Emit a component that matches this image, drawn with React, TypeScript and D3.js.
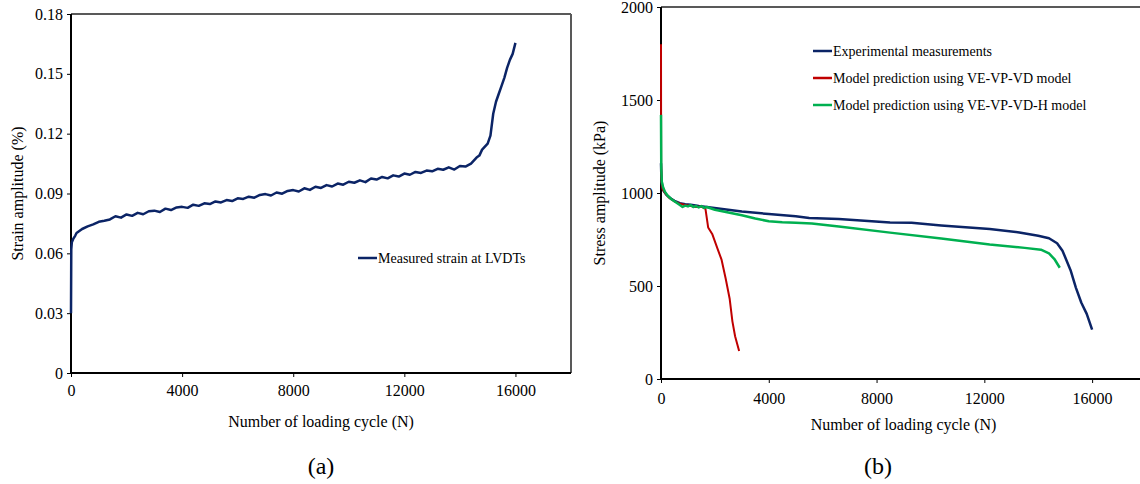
import React, { useRef, useEffect } from 'react';
import * as d3 from 'd3';

// (a) measured strain amplitude vs loading cycles
const strainCycles = [
  0, 10, 30, 80, 150, 200, 400, 600, 800, 1000, 1200, 1400, 1600, 1800, 2000,
  2200, 2400, 2600, 2800, 3000, 3200, 3400, 3600, 3800, 4000, 4200, 4400, 4600,
  4800, 5000, 5200, 5400, 5600, 5800, 6000, 6200, 6400, 6600, 6800, 7000, 7200,
  7400, 7600, 7800, 8000, 8200, 8400, 8600, 8800, 9000, 9200, 9400, 9600, 9800,
  10000, 10200, 10400, 10600, 10800, 11000, 11200, 11400, 11600, 11800, 12000,
  12200, 12400, 12600, 12800, 13000, 13200, 13400, 13600, 13800, 14000, 14200,
  14400, 14500, 14600, 14700, 14800, 14900, 15000, 15100, 15200, 15300, 15400,
  15500, 15600, 15700, 15800, 15900, 16000,
];
const strainValues = [
  0.03, 0.062, 0.0655, 0.0672, 0.0688, 0.0702, 0.0722, 0.0735, 0.0745, 0.0758,
  0.0763, 0.077, 0.0786, 0.0779, 0.0795, 0.0788, 0.0803, 0.0796, 0.0811, 0.0814,
  0.0807, 0.0824, 0.0817, 0.083, 0.0833, 0.0828, 0.0844, 0.0838, 0.0851, 0.0847,
  0.086, 0.0855, 0.0867, 0.0862, 0.0876, 0.0873, 0.0884, 0.0879, 0.0893, 0.0897,
  0.089, 0.0905, 0.0899, 0.0913, 0.0917, 0.091, 0.0926, 0.0918, 0.0934, 0.0928,
  0.0942, 0.0935, 0.095, 0.0944, 0.0959, 0.0954, 0.0966, 0.0957, 0.0975, 0.097,
  0.0983, 0.0976, 0.0991, 0.0985, 0.1, 0.0994, 0.1008, 0.1003, 0.1015, 0.1011,
  0.1024, 0.1019, 0.1031, 0.102, 0.1038, 0.1035, 0.105, 0.1065, 0.108, 0.109,
  0.112, 0.1135, 0.115, 0.119, 0.13, 0.136, 0.14, 0.144, 0.148, 0.153, 0.157,
  0.16, 0.1655,
];

// (b) stress amplitude vs loading cycles
const expCycles = [
  0, 15, 40, 100, 200, 350, 500, 700, 900, 1100, 1400, 1700, 2200, 3000, 4000,
  5000, 5500, 6600, 8500, 9300, 10400, 12200, 13300, 14000, 14400, 14700, 14900,
  15200, 15400, 15600, 15800, 16000,
];
const expStress = [
  1160, 1080, 1040, 1010, 990, 972, 958, 945, 940, 937, 930, 925, 915, 900, 887,
  875, 866, 860, 842, 840, 825, 806, 788, 770, 757, 730, 690, 585, 490, 410, 350,
  265,
];

const vdCycles = [
  0, 5, 20, 60, 150, 300, 500, 700, 900, 1100, 1300, 1500, 1650, 1750, 1900,
  2100, 2250, 2400, 2550, 2650, 2750, 2900,
];
const vdStress = [
  1800, 1150, 1060, 1020, 1000, 975, 955, 942, 935, 930, 925, 927, 915, 815, 780,
  700, 640, 540, 430, 310, 230, 150,
];

const vdhCycles = [
  0, 10, 30, 80, 150, 250, 400, 550, 700, 800, 900, 1000, 1100, 1200, 1300, 1400,
  1500, 1600, 1700, 2000, 2500, 3000, 3500, 4000, 4500, 5000, 5600, 6600, 8500,
  10400, 12200, 13500, 14100, 14400, 14600, 14800,
];
const vdhStress = [
  1420, 1130, 1060, 1030, 1005, 985, 965, 950, 935, 925, 932, 928, 935, 925, 930,
  922, 930, 920, 925, 910, 895, 880, 863, 848, 843, 840, 836, 820, 787, 755, 723,
  705, 695, 675, 645, 598,
];

const cycleTicks = [0, 4000, 8000, 12000, 16000];
const strainTicks = [0, 0.03, 0.06, 0.09, 0.12, 0.15, 0.18];
const stressTicks = [0, 500, 1000, 1500, 2000];

const NAVY = '#0b2466';
const RED = '#c00000';
const GREEN = '#00b050';
const FONT = '"Liberation Serif", "Times New Roman", serif';

type Series = { xs: number[]; ys: number[]; color: string; width: number; label: string };

type PanelProps = {
  left: number; right: number; top: number; bottom: number;
  xMax: number; yMax: number; yTicks: number[];
  yFormat: (d: number) => string;
  yTitle: string; yTitleX: number;
  xLabelPad: number; xTitleY: number;
  caption: string; captionX: number;
  series: Series[];
  legendX: number; legendY: number[];
};

function Panel(p: PanelProps) {
  const xRef = useRef<SVGGElement>(null);
  const yRef = useRef<SVGGElement>(null);
  const x = d3.scaleLinear().domain([0, p.xMax]).range([p.left, p.right]);
  const y = d3.scaleLinear().domain([0, p.yMax]).range([p.bottom, p.top]);

  useEffect(() => {
    const gx = d3.select(xRef.current!);
    gx.call(
      d3.axisBottom(x).tickValues(cycleTicks).tickSize(4).tickPadding(p.xLabelPad)
        .tickFormat((d) => String(d))
    );
    gx.select('.domain').remove();
    gx.selectAll('text').attr('font-family', FONT).attr('font-size', 16).attr('fill', '#000');
    gx.selectAll('line').attr('stroke', '#000');

    const gy = d3.select(yRef.current!);
    gy.call(
      d3.axisLeft(y).tickValues(p.yTicks).tickSize(4).tickPadding(4)
        .tickFormat((d) => p.yFormat(d as number))
    );
    gy.select('.domain').remove();
    gy.selectAll('text').attr('font-family', FONT).attr('font-size', 16).attr('fill', '#000');
    gy.selectAll('line').attr('stroke', '#000');
  }, []);

  const lineGen = d3.line<[number, number]>().x((d) => x(d[0])).y((d) => y(d[1]));
  const midY = (p.top + p.bottom) / 2;

  return (
    <g>
      {/* frame: grey top/right, black axes */}
      <line x1={p.left} x2={p.right} y1={p.top} y2={p.top} stroke="#595959" strokeWidth={2} />
      <line x1={p.right} x2={p.right} y1={p.top} y2={p.bottom} stroke="#595959" strokeWidth={2} />
      <line x1={p.left} x2={p.right} y1={p.bottom} y2={p.bottom} stroke="#000" strokeWidth={2} />
      <line x1={p.left} x2={p.left} y1={p.top} y2={p.bottom} stroke="#000" strokeWidth={2} />
      <g ref={xRef} transform={`translate(0,${p.bottom})`} />
      <g ref={yRef} transform={`translate(${p.left},0)`} />
      {p.series.map((s) => (
        <path key={s.label}
          d={lineGen(s.xs.map((v, i) => [v, s.ys[i]] as [number, number])) || ''}
          fill="none" stroke={s.color} strokeWidth={s.width} strokeLinejoin="round" />
      ))}
      {p.series.map((s, i) => (
        <g key={'lg' + s.label}>
          <line x1={p.legendX} x2={p.legendX + 19} y1={p.legendY[i]} y2={p.legendY[i]}
            stroke={s.color} strokeWidth={2.5} />
          <text x={p.legendX + 20} y={p.legendY[i]} dy="0.35em" fontFamily={FONT} fontSize={14}>
            {s.label}
          </text>
        </g>
      ))}
      <text transform={`translate(${p.yTitleX},${midY}) rotate(-90)`} textAnchor="middle"
        dy="0.35em" fontFamily={FONT} fontSize={16}>{p.yTitle}</text>
      <text x={(p.left + p.right) / 2} y={p.xTitleY} textAnchor="middle" dy="0.35em"
        fontFamily={FONT} fontSize={16}>Number of loading cycle (N)</text>
      <text x={p.captionX} y={466} textAnchor="middle" dy="0.35em"
        fontFamily={FONT} fontSize={24}>{p.caption}</text>
    </g>
  );
}

export default function App() {
  return (
    <svg width={1140} height={484} style={{ position: 'absolute', left: 0, top: 0, background: '#fff' }}>
      <Panel left={71} right={571} top={14} bottom={373} xMax={18000} yMax={0.18}
        yTicks={strainTicks} yFormat={(d) => (d === 0 ? '0' : d.toFixed(2))}
        yTitle="Strain amplitude (%)" yTitleX={17} xLabelPad={8} xTitleY={421}
        caption="(a)" captionX={321}
        series={[{ xs: strainCycles, ys: strainValues, color: NAVY, width: 2.5, label: 'Measured strain at LVDTs' }]}
        legendX={358} legendY={[258]}
      />
      <Panel left={661} right={1146} top={7} bottom={379} xMax={18000} yMax={2000}
        yTicks={stressTicks} yFormat={(d) => String(d)}
        yTitle="Stress amplitude (kPa)" yTitleX={599} xLabelPad={10} xTitleY={424}
        caption="(b)" captionX={878}
        series={[
          { xs: expCycles, ys: expStress, color: NAVY, width: 2.5, label: 'Experimental measurements' },
          { xs: vdCycles, ys: vdStress, color: RED, width: 2, label: 'Model prediction using VE-VP-VD model' },
          { xs: vdhCycles, ys: vdhStress, color: GREEN, width: 2.5, label: 'Model prediction using VE-VP-VD-H model' },
        ]}
        legendX={813} legendY={[51, 78, 105]}
      />
    </svg>
  );
}
